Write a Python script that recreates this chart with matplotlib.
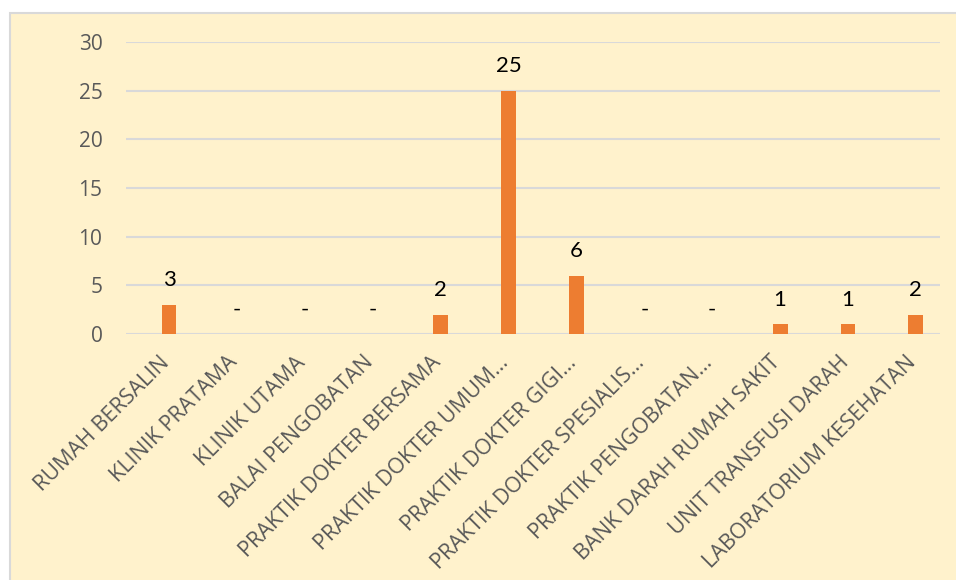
import matplotlib.pyplot as plt
from matplotlib.patches import Rectangle
from matplotlib.transforms import ScaledTranslation

# Data
categories = ['RUMAH BERSALIN', 'KLINIK PRATAMA', 'KLINIK UTAMA', 'BALAI PENGOBATAN',
              'PRAKTIK DOKTER BERSAMA', 'PRAKTIK DOKTER UMUM…', 'PRAKTIK DOKTER GIGI…',
              'PRAKTIK DOKTER SPESIALIS…', 'PRAKTIK PENGOBATAN…', 'BANK DARAH RUMAH SAKIT',
              'UNIT TRANSFUSI DARAH', 'LABORATORIUM KESEHATAN']
values = [3, 0, 0, 0, 2, 25, 6, 0, 0, 1, 1, 2]
yticks = [0, 5, 10, 15, 20, 25, 30]

BG = '#FFF2CC'
GRID = '#D9D9D9'
BAR = '#ED7D31'
TXT = '#595959'
FONT = ['Open Sans', 'DejaVu Sans']

fig = plt.figure(figsize=(9.56, 5.80), dpi=100)
fig.patch.set_facecolor('white')
W, H = 956, 580
# chart area background with light border
fig.patches.append(Rectangle((9.5 / W, -0.01), 1.02, (H - 12.5) / H + 0.01,
                             transform=fig.transFigure, facecolor=BG,
                             edgecolor=GRID, linewidth=1.5, zorder=-5))

ax = fig.add_axes([126 / W, (H - 334) / H, 814 / W, 292 / H])
ax.set_zorder(2)
ax.set_facecolor('none')

x = list(range(len(categories)))
ax.bar(x, values, width=0.22, color=BAR, zorder=3)

for xi, v in zip(x, values):
    ax.annotate(str(v) if v else '-', (xi, v), xytext=(0, 13.5),
                textcoords='offset points', ha='center', va='baseline',
                fontsize=16, color='black', family=['Lato', 'DejaVu Sans'])

ax.set_xlim(-0.633, 11.355)
ax.set_ylim(0, 30)
ax.set_yticks(yticks)
ax.yaxis.grid(True, color=GRID, linewidth=1.5, zorder=0)
ax.set_axisbelow(True)
for s in ax.spines.values():
    s.set_visible(False)

ax.tick_params(axis='y', length=0, pad=17, labelsize=15, labelcolor=TXT)
ax.tick_params(axis='x', length=0, pad=13)
ax.set_xticks(x)
ax.set_xticklabels(categories, rotation=45, ha='right', rotation_mode='anchor',
                   fontsize=15.5, color=TXT, family=FONT)
shift = ScaledTranslation(-10 / 100, 0, fig.dpi_scale_trans)
for lab in ax.get_xticklabels():
    lab.set_transform(lab.get_transform() + shift)
for lab in ax.get_yticklabels():
    lab.set_family(FONT)

fig.savefig('out.png', dpi=100, facecolor='white')
